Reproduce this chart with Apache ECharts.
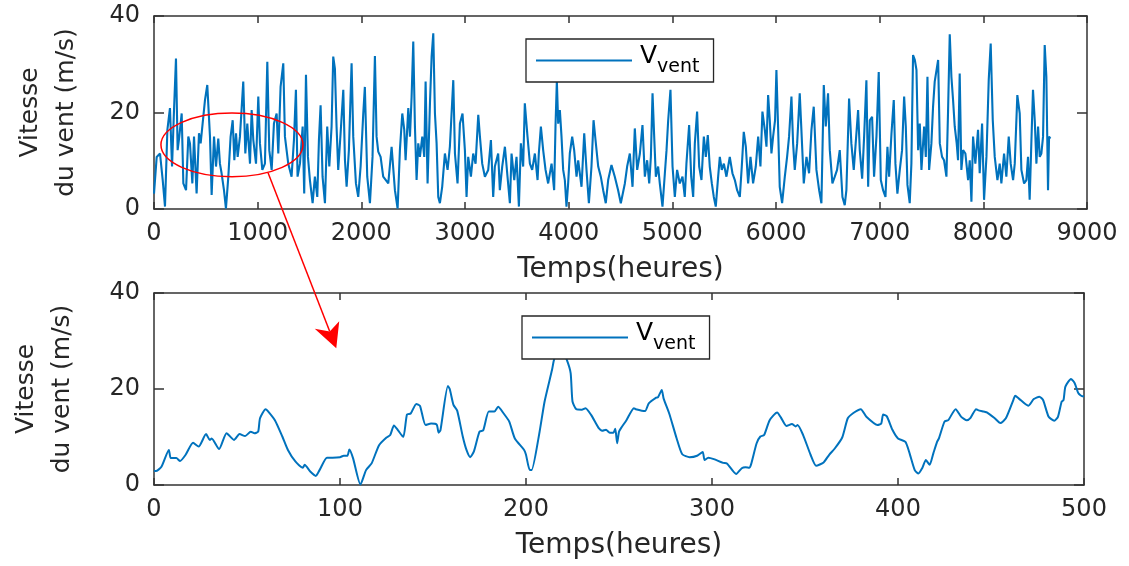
<!DOCTYPE html>
<html>
<head>
<meta charset="utf-8">
<script src="https://cdn.jsdelivr.net/npm/echarts@6/dist/echarts.min.js"></script>
<style>
  html, body { margin: 0; background: #fff; }
  #chart { width: 1129px; height: 566px; }
</style>
</head>
<body>
<div id="chart"></div>
<script>
// vitesse du vent sur l'année : [heure, m/s]
const ventAnnee = [
  [0,3.2],[26,10.8],[58,11.5],[84,6.0],[106,0.5],[129,16.4],[154,20.9],[174,8.8],[193,20.5],[212,31.2],
  [228,12.2],[244,15.0],[267,19.8],[283,5.3],[309,3.9],[331,15.0],[347,13.6],[370,5.3],[386,15.0],[411,3.2],
  [434,15.7],[450,13.6],[469,17.7],[492,22.6],[514,25.7],[527,25.3],[540,15.0],[556,2.9],[579,15.0],[598,8.8],
  [620,14.6],[636,9.4],[652,7.4],[675,3.9],[694,0.1],[717,6.7],[739,15.0],[759,18.4],[775,10.1],[791,15.7],
  [807,10.8],[829,15.0],[861,26.4],[881,11.5],[900,17.7],[926,9.4],[942,20.5],[958,14.3],[984,9.4],[1006,23.3],
  [1022,13.6],[1045,8.1],[1070,9.4],[1093,30.5],[1112,12.2],[1135,8.1],[1157,17.7],[1183,19.8],[1199,11.5],[1221,25.3],
  [1247,30.2],[1263,15.0],[1279,12.2],[1295,9.4],[1327,6.7],[1350,14.3],[1369,24.7],[1385,6.7],[1408,9.4],[1434,17.1],
  [1449,3.2],[1466,27.8],[1485,10.8],[1504,6.0],[1530,1.2],[1552,6.7],[1575,2.5],[1591,14.3],[1607,21.5],[1626,6.7],
  [1649,1.2],[1671,17.1],[1691,8.8],[1713,17.1],[1729,31.6],[1745,29.1],[1761,17.1],[1777,8.1],[1800,15.7],[1826,24.7],
  [1842,10.1],[1858,4.6],[1880,12.2],[1906,30.2],[1922,15.0],[1948,5.3],[1970,2.5],[1993,8.8],[2018,19.5],[2034,25.3],
  [2057,6.7],[2083,1.2],[2108,10.8],[2131,31.7],[2147,15.0],[2163,11.9],[2186,10.8],[2211,6.7],
  [2260,5.3],[2292,12.9],[2324,3.9],[2350,0.1],[2372,12.2],[2395,19.8],[2414,16.4],[2427,10.1],[2453,20.9],[2469,15.0],
  [2485,23.3],[2501,34.7],[2517,17.1],[2533,6.0],[2549,13.6],[2565,10.8],[2588,15.0],[2607,10.8],[2620,26.4],[2639,5.3],
  [2662,21.9],[2678,31.6],[2694,36.4],[2710,19.8],[2726,13.6],[2742,2.5],[2758,1.2],[2780,4.6],[2806,11.5],[2832,8.1],
  [2854,12.9],[2887,26.7],[2903,11.5],[2928,5.3],[2951,17.7],[2976,19.8],[2999,12.2],[3015,2.5],[3031,10.8],[3057,6.7],
  [3079,11.5],[3102,9.4],[3128,19.5],[3144,15.0],[3166,9.4],[3192,6.7],[3224,8.1],[3250,14.3],[3272,2.5],[3288,8.8],
  [3320,11.5],[3336,3.9],[3359,8.8],[3385,12.9],[3410,6.7],[3433,1.2],[3449,11.5],[3475,6.0],[3497,10.8],[3520,0.5],
  [3539,13.6],[3561,8.8],[3577,21.9],[3603,15.0],[3626,9.4],[3648,8.1],[3674,11.5],[3700,6.0],[3712,11.5],[3732,17.1],
  [3754,12.2],[3777,8.1],[3802,5.3],[3835,9.4],[3860,3.9],[3873,17.1],[3886,26.5],[3899,17.7],[3915,20.5],[3931,15.0],
  [3947,8.1],[3963,6.0],[3979,0.5],[3995,5.3],[4011,11.5],[4034,15.0],[4053,12.2],[4076,6.7],[4092,10.1],[4124,4.6],
  [4150,15.7],[4172,8.1],[4195,1.2],[4220,8.8],[4240,18.4],[4259,14.3],[4285,8.8],[4310,6.7],[4333,3.9],[4358,1.2],
  [4381,6.0],[4413,9.1],[4445,6.7],[4477,3.9],[4503,1.2],
  [4542,5.3],[4564,8.8],[4590,11.5],[4616,4.6],[4638,16.7],[4661,8.1],[4687,11.5],[4712,17.4],[4735,6.7],[4757,10.1],
  [4777,5.3],[4793,10.8],[4809,24.0],[4825,15.0],[4841,6.7],[4863,8.8],[4879,5.3],[4905,0.5],[4928,7.4],[4944,12.2],
  [4960,18.4],[4982,24.7],[5002,8.8],[5024,2.5],[5046,8.1],[5072,5.3],[5098,6.7],[5120,2.5],[5136,9.4],[5162,17.4],
  [5182,6.7],[5201,2.5],[5217,13.6],[5239,20.2],[5259,8.8],[5281,6.0],[5304,15.0],[5323,10.8],[5342,15.3],[5361,8.8],
  [5381,5.3],[5400,2.5],[5419,0.5],[5442,6.7],[5458,10.8],[5477,8.1],[5497,9.4],[5522,6.7],[5554,10.8],[5580,7.4],
  [5603,6.0],[5625,3.9],[5651,2.5],[5670,8.8],[5689,16.0],[5709,12.9],[5731,5.3],[5754,10.8],[5779,5.3],[5805,8.8],
  [5828,15.0],[5850,8.8],[5869,20.2],[5892,16.4],[5908,12.9],[5924,23.6],[5940,18.4],[5956,11.5],[5972,15.0],[5991,18.4],
  [6004,28.8],[6020,17.1],[6036,4.6],[6059,1.2],[6085,6.7],[6107,10.8],[6126,15.0],[6149,23.3],[6165,13.6],[6181,8.1],
  [6204,13.6],[6229,24.0],[6245,16.4],[6268,5.3],[6294,10.8],[6319,7.4],[6342,16.4],[6364,21.2],[6390,8.1],[6416,3.9],
  [6438,1.2],[6461,25.7],[6480,17.1],[6502,24.0],[6519,12.2],[6544,5.3],[6567,6.7],[6589,8.1],[6615,12.2],[6641,2.5],
  [6663,0.8],[6679,3.9],[6705,22.9],[6727,13.6],[6750,8.1],
  [6792,20.5],[6808,12.2],[6831,6.3],[6850,15.0],[6872,26.7],[6889,4.6],[6905,18.4],[6927,19.1],[6946,6.7],[6969,15.0],
  [6991,28.4],[7011,6.0],[7033,3.9],[7056,2.5],[7075,12.9],[7091,6.7],[7114,15.7],[7136,22.6],[7152,9.4],[7171,3.2],
  [7194,8.1],[7216,12.2],[7236,23.3],[7252,17.1],[7268,5.0],[7290,1.2],[7306,9.4],[7322,31.9],[7339,30.9],[7355,28.8],
  [7371,12.2],[7387,17.7],[7403,8.1],[7429,17.1],[7445,10.8],[7461,27.4],[7477,8.1],[7499,13.6],[7515,21.2],[7531,26.4],
  [7547,26.7],[7564,30.9],[7580,13.6],[7602,10.8],[7621,10.1],[7644,6.7],[7660,20.5],[7676,36.2],[7692,27.4],[7708,22.6],
  [7724,17.1],[7743,13.6],[7756,10.1],[7772,28.1],[7788,8.1],[7805,12.2],[7827,11.5],[7853,6.0],[7869,10.1],[7885,1.5],
  [7901,15.0],[7923,9.4],[7949,16.4],[7965,7.4],[7988,17.7],[8007,1.9],[8030,10.8],[8052,26.7],[8071,34.3],[8091,18.4],
  [8110,10.8],[8136,6.0],[8158,9.4],[8174,5.3],[8200,11.5],[8222,6.7],[8245,15.0],[8264,9.4],[8287,6.0],[8303,9.4],
  [8328,23.6],[8351,19.8],[8367,8.1],[8393,5.3],[8415,6.0],[8431,10.8],[8447,1.9],[8463,13.6],[8479,24.7],[8496,18.4],
  [8512,9.4],[8528,17.1],[8544,10.8],[8560,11.5],[8576,15.0],[8592,34.0],[8608,27.4],[8624,3.9],[8634,15.0],[8647,14.6]
];

// zoom sur les 500 premières heures : [heure, m/s]
const ventZoom = [
  [0,3.0],[1,2.9],[4,3.8],[8,7.3],[9,5.6],[12,5.6],[14,5.0],[17,6.3],[21,8.8],[24,8.0],
  [28,10.6],[30,9.4],[31,9.7],[35,7.5],[39,10.8],[43,9.4],[46,10.6],[49,10.2],[52,11.1],[54,10.8],
  [56,11.1],[57,13.9],[60,15.8],[61,15.5],[65,13.5],[69,10.1],[72,7.3],[76,4.9],[80,3.6],[81,4.2],
  [84,2.8],[87,1.9],[89,3.1],[93,5.7],[96,5.7],[100,5.8],[102,6.1],[104,6.1],[105,7.4],[107,5.6],
  [111,0.1],[114,3.1],[117,4.5],[121,8.3],[125,9.9],[127,10.4],[129,12.4],[131,11.5],[134,10.0],[136,14.7],
  [138,14.9],[141,16.9],[143,16.5],[146,12.5],[149,12.8],[152,12.6],[153,10.9],[154,11.4],[158,20.6],[159,20.0],
  [161,16.7],[163,15.5],[166,10.1],[168,7.3],[170,5.8],[172,7.0],[175,11.1],[177,11.4],[180,15.3],[183,15.3],
  [185,16.3],[188,14.9],[191,13.2],[194,9.7],[199,7.3],[200,6.3],[202,3.1],[203,3.1],[207,10.4],[210,17.4],
  [214,24.0],[215,26.0],[218,29.5],[222,26.0],[224,23.3],[225,17.4],[227,15.8],[230,15.7],[232,16.0],[235,14.6],
  [239,11.9],[241,11.3],[243,11.5],[245,10.9],[247,10.9],[248,11.7],[249,8.7],[250,11.1],[251,11.8],[254,13.5],
  [258,16.0],[259,15.8],[264,15.4],[266,17.0],[270,18.2],[271,18.3],[273,19.8],[274,18.0],[277,14.9],[281,9.7],
  [284,6.4],[288,5.8],[292,6.1],[295,6.9],[296,5.2],[298,5.7],[301,5.4],[306,4.6],[308,4.5],[313,2.3],
  [316,3.5],[318,3.7],[320,3.6],[321,4.3],[324,8.7],[326,10.1],[328,10.4],[331,13.5],[335,15.1],[337,14.1],
  [340,12.3],[343,12.7],[345,12.2],[346,12.5],[349,10.4],[353,6.3],[356,4.0],[360,4.7],[363,6.3],[366,7.6],
  [370,9.9],[373,13.9],[376,15.0],[380,15.8],[383,14.2],[389,12.5],[391,12.8],[392,14.7],[394,14.3],[397,11.5],
  [400,9.7],[404,9.0],[406,6.9],[409,3.1],[411,2.4],[413,3.5],[415,5.2],[417,4.2],[419,6.6],[421,9.0],
  [422,9.7],[425,13.2],[427,13.5],[431,15.8],[434,14.2],[437,13.5],[439,14.0],[442,15.8],[443,15.6],[446,15.3],
  [448,15.1],[452,13.9],[455,12.9],[458,13.9],[462,17.7],[463,18.6],[465,18.0],[470,16.5],[473,17.9],[476,18.4],
  [478,17.7],[481,14.2],[484,13.4],[486,14.2],[488,17.4],[489,17.7],[490,20.5],[493,22.1],[495,21.2],[497,19.1],
  [499,18.5],[500,18.5]
];

// ellipse rouge et flèche (en coordonnées des données)
const ellipseCentre = [752, 13.3];
const ellipseRayon = [685, 6.6];
const flecheDepart = [1100, 7.5];   // graphe du haut
const flecheArrivee = [98, 28.5];   // graphe du bas

const police = 'DejaVu Sans';
const gris = '#262626';
const bleu = '#0072BD';

let chart = echarts.init(document.getElementById('chart'));

function axeX(grid, max, interval, bas) {
    return {
        type: 'value', gridIndex: grid, min: 0, max: max, interval: interval,
        position: bas ? 'bottom' : 'top',
        name: bas ? 'Temps(heures)' : '',
        nameLocation: 'middle',
        nameGap: 47,
        nameTextStyle: {fontSize: 28, color: gris, fontFamily: police},
        axisLine: {onZero: false, lineStyle: {color: '#333', width: 1.5}},
        axisTick: {inside: true, length: 7, lineStyle: {color: '#333', width: 1.5}},
        axisLabel: {
            show: bas, fontSize: 24, color: gris, margin: 13, fontFamily: police,
            formatter: function (v) { return String(v); }
        },
        splitLine: {show: false}
    };
}

function axeY(grid, gauche, gap) {
    return {
        type: 'value', gridIndex: grid, min: 0, max: 40, interval: 20,
        position: gauche ? 'left' : 'right',
        name: gauche ? 'Vitesse\ndu vent (m/s)' : '',
        nameLocation: 'middle',
        nameGap: gap,
        nameTextStyle: {fontSize: 25, lineHeight: 36, color: gris, fontFamily: police},
        axisLine: {onZero: false, lineStyle: {color: '#333', width: 1.5}},
        axisTick: {inside: true, length: 10, lineStyle: {color: '#333', width: 1.5}},
        axisLabel: {show: gauche, fontSize: 24, color: gris, margin: 14, fontFamily: police},
        splitLine: {show: false}
    };
}

function legende(left, top) {
    return {
        left: left, top: top,
        data: [{name: 'Vvent', icon: 'rect'}],
        selectedMode: false,
        itemWidth: 96, itemHeight: 2,
        backgroundColor: '#fff',
        borderColor: gris, borderWidth: 1.3, borderRadius: 0,
        padding: [5, 14, 5, 10],
        formatter: function () { return '{v|V}{s|vent}'; },
        textStyle: {
            padding: [0, 0, 0, 3],
            rich: {
                v: {fontSize: 25, lineHeight: 26, padding: [0, 0, 8, 0], color: '#000', fontFamily: police},
                s: {fontSize: 19, lineHeight: 20, padding: [14, 0, 0, 0], color: '#000', fontFamily: police}
            }
        }
    };
}

chart.setOption({
    animation: false,
    backgroundColor: '#fff',
    grid: [
        {left: 154, top: 16, width: 933, height: 193},
        {left: 150, top: 293, width: 934, height: 192}
    ],
    xAxis: [
        axeX(0, 9000, 1000, true),
        axeX(0, 9000, 1000, false),
        axeX(1, 500, 100, true),
        axeX(1, 500, 100, false)
    ],
    yAxis: [
        axeY(0, true, 70),
        axeY(0, false, 0),
        axeY(1, true, 74),
        axeY(1, false, 0)
    ],
    legend: [legende(526, 39), legende(522, 316)],
    series: [
        {
            name: 'Vvent', type: 'line', xAxisIndex: 0, yAxisIndex: 0,
            data: ventAnnee, showSymbol: false,
            lineStyle: {color: bleu, width: 2.1}, itemStyle: {color: bleu}
        },
        {
            name: 'Vvent', type: 'line', xAxisIndex: 2, yAxisIndex: 2,
            data: ventZoom, showSymbol: false, smooth: 0.2,
            lineStyle: {color: bleu, width: 2}, itemStyle: {color: bleu}
        }
    ]
});

// annotation : ellipse + flèche rouge
let c = chart.convertToPixel({gridIndex: 0}, ellipseCentre);
let bord = chart.convertToPixel({gridIndex: 0}, [ellipseCentre[0] + ellipseRayon[0], ellipseCentre[1] + ellipseRayon[1]]);
let a = chart.convertToPixel({gridIndex: 0}, flecheDepart);
let b = chart.convertToPixel({gridIndex: 1}, flecheArrivee);
let dx = b[0] - a[0], dy = b[1] - a[1];
let len = Math.sqrt(dx * dx + dy * dy);
let ux = dx / len, uy = dy / len, nx = -uy, ny = ux;
let pt = (l, w) => [b[0] - ux * l + nx * w, b[1] - uy * l + ny * w];

chart.setOption({
    graphic: [
        {
            type: 'ellipse', z: 100,
            shape: {cx: c[0], cy: c[1], rx: bord[0] - c[0], ry: c[1] - bord[1]},
            style: {fill: 'none', stroke: '#ff0000', lineWidth: 1.5}
        },
        {
            type: 'line', z: 100,
            shape: {x1: a[0], y1: a[1], x2: pt(18, 0)[0], y2: pt(18, 0)[1]},
            style: {stroke: '#ff0000', lineWidth: 1.5}
        },
        {
            type: 'polygon', z: 100,
            shape: {points: [b, pt(26, 13), pt(18, 0), pt(24, -12.5)]},
            style: {fill: '#ff0000'}
        }
    ]
});
</script>
</body>
</html>
